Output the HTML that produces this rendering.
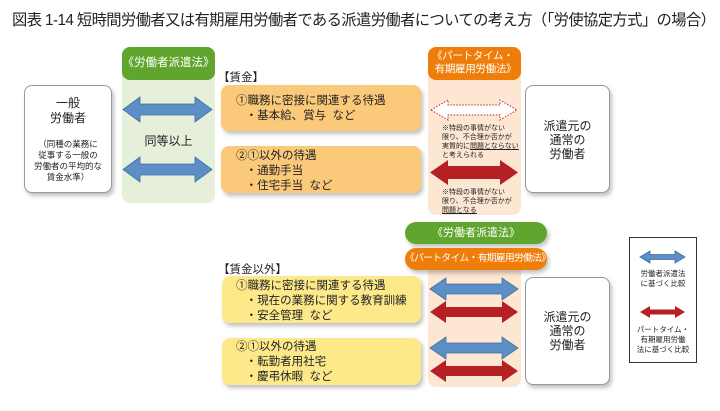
<!DOCTYPE html>
<html><head><meta charset="utf-8"><style>
body{margin:0;width:720px;height:411px;background:#fff;position:relative;overflow:hidden;font-family:"Liberation Sans","Noto Sans CJK JP",sans-serif;color:#222}
.a{position:absolute}
.box{position:absolute;border-radius:8px;box-shadow:2px 3px 4px rgba(0,0,0,.25)}
.t{font-size:11.5px;line-height:15px;white-space:nowrap}
.c{text-align:center}
</style></head><body>
<div class="a" style="left:12px;top:8px;font-size:15.3px;letter-spacing:-0.6px;white-space:nowrap;color:#222">図表 1-14 短時間労働者又は有期雇用労働者である派遣労働者についての考え方（「労使協定方式」の場合）</div>

<div class="a" style="left:122px;top:47px;width:93px;height:156px;background:#e5efd9;border-radius:8px"></div>
<div class="a c" style="left:122px;top:47px;width:93px;height:33px;background:#5fa52e;border-radius:8px;color:#fff;font-size:11.5px;line-height:33px;white-space:nowrap">《労働者派遣法》</div>
<div class="a c t" style="left:122px;top:134px;width:93px;font-size:12px">同等以上</div>

<div class="a" style="left:428px;top:47px;width:93px;height:168px;background:#fde6d2;border-radius:8px"></div>
<div class="a" style="left:428px;top:47px;width:93px;height:33px;background:#ef7d0a;border-radius:8px;color:#fff;font-size:10.5px;line-height:13px;padding:3px 0 0 4px;box-sizing:border-box;white-space:nowrap;letter-spacing:-0.3px">《パートタイム・<br>&nbsp;有期雇用労働法》</div>

<div class="box" style="left:24px;top:85px;width:88px;height:108px;border:1px solid #999;background:#fff;box-sizing:border-box"></div>
<div class="a c" style="left:24px;top:96px;width:88px;font-size:12px;line-height:15px">一般<br>労働者</div>
<div class="a c" style="left:24px;top:139px;width:88px;font-size:8.5px;line-height:11px;white-space:nowrap">（同種の業務に<br>従事する一般の<br>労働者の平均的な<br>賃金水準）</div>

<div class="a" style="left:218px;top:69px;font-size:11.5px">【賃金】</div>
<div class="box" style="left:221px;top:85px;width:200px;height:46px;background:#fbc97a"></div>
<div class="a t" style="left:236px;top:94px">①職務に密接に関連する待遇<br>&nbsp;&nbsp;&nbsp;・基本給、賞与&nbsp; など</div>
<div class="box" style="left:221px;top:146px;width:200px;height:47px;background:#fbc97a"></div>
<div class="a t" style="left:236px;top:149px">②①以外の待遇<br>&nbsp;&nbsp;&nbsp;・通勤手当<br>&nbsp;&nbsp;&nbsp;・住宅手当&nbsp; など</div>

<div class="box" style="left:525px;top:85px;width:85px;height:108px;border:1px solid #999;background:#fff;box-sizing:border-box"></div>
<div class="a c" style="left:525px;top:119px;width:85px;font-size:12px;line-height:14px">派遣元の<br>通常の<br>労働者</div>

<div class="a" style="left:442px;top:124px;font-size:7px;line-height:9px;white-space:nowrap">※特段の事情がない<br>限り、不合理か否かが<br>実質的に<u>問題とならない</u><br>と考えられる</div>
<div class="a" style="left:442px;top:188px;font-size:7px;line-height:9px;white-space:nowrap">※特段の事情がない<br>限り、不合理か否かが<br><u>問題となる</u></div>

<div class="a" style="left:428px;top:262px;width:93px;height:125px;background:#fde6d2;border-radius:8px"></div>
<div class="box c" style="left:405px;top:222px;width:142px;height:22px;background:#5fa52e;border-radius:11px;color:#fff;font-size:11px;line-height:22px;white-space:nowrap">《労働者派遣法》</div>
<div class="box c" style="left:405px;top:248px;width:142px;height:22px;background:#ef7d0a;border-radius:11px;color:#fff;font-size:9.8px;letter-spacing:-0.7px;line-height:22px;white-space:nowrap">《パートタイム・有期雇用労働法》</div>
<div class="a" style="left:218px;top:261px;font-size:11.5px">【賃金以外】</div>
<div class="box" style="left:222px;top:276px;width:199px;height:47px;background:#fee98a"></div>
<div class="a t" style="left:236px;top:279px">①職務に密接に関連する待遇<br>&nbsp;&nbsp;&nbsp;・現在の業務に関する教育訓練<br>&nbsp;&nbsp;&nbsp;・安全管理&nbsp; など</div>
<div class="box" style="left:222px;top:338px;width:199px;height:47px;background:#fee98a"></div>
<div class="a t" style="left:236px;top:340px">②①以外の待遇<br>&nbsp;&nbsp;&nbsp;・転勤者用社宅<br>&nbsp;&nbsp;&nbsp;・慶弔休暇&nbsp; など</div>
<div class="box" style="left:525px;top:277px;width:85px;height:108px;border:1px solid #999;background:#fff;box-sizing:border-box"></div>
<div class="a c" style="left:525px;top:310px;width:85px;font-size:12px;line-height:14px">派遣元の<br>通常の<br>労働者</div>

<div class="a" style="left:629px;top:237px;width:68px;height:126px;border:1.5px solid #333;box-sizing:border-box"></div>
<div class="a c" style="left:629px;top:269px;width:68px;font-size:7.5px;line-height:10px;white-space:nowrap">労働者派遣法<br>に基づく比較</div>
<div class="a c" style="left:629px;top:325px;width:68px;font-size:7.5px;line-height:10px;white-space:nowrap">パートタイム・<br>有期雇用労働<br>法に基づく比較</div>

<svg class="a" style="left:0;top:0" width="720" height="411">
<g fill="#5b8fc6" stroke="#3f6ea3" stroke-width="0.8">
<polygon points="123,109.5 140,97 140,104 195,104 195,97 212,109.5 195,122 195,115 140,115 140,122"/>
<polygon points="123,169.5 140,157 140,164 195,164 195,157 212,169.5 195,182 195,175 140,175 140,182"/>
<polygon points="430,289 446,278 446,284 502,284 502,278 518,289 502,300 502,294 446,294 446,300"/>
<polygon points="430,348 446,337 446,343 502,343 502,337 518,348 502,359 502,353 446,353 446,359"/>
<polygon points="640,257 650,251 650,254.5 675,254.5 675,251 685,257 675,263 675,259.5 650,259.5 650,263"/>
</g>
<g fill="#b52025">
<polygon points="430,172.5 448,160 448,166 500,166 500,160 518,172.5 500,185 500,179 448,179 448,185"/>
<polygon points="430,312 446,301 446,307 502,307 502,301 518,312 502,323 502,317 446,317 446,323"/>
<polygon points="430,371 446,360 446,366 502,366 502,360 518,371 502,382 502,376 446,376 446,382"/>
<polygon points="640,312 650,306 650,309.5 675,309.5 675,306 685,312 675,318 675,314.5 650,314.5 650,318"/>
</g>
<polygon points="431,110 448,100 448,105 500,105 500,100 517,110 500,120 500,115 448,115 448,120" fill="#fff" stroke="#c0272d" stroke-width="1" stroke-dasharray="1.5,1.5"/>
</svg>
</body></html>
